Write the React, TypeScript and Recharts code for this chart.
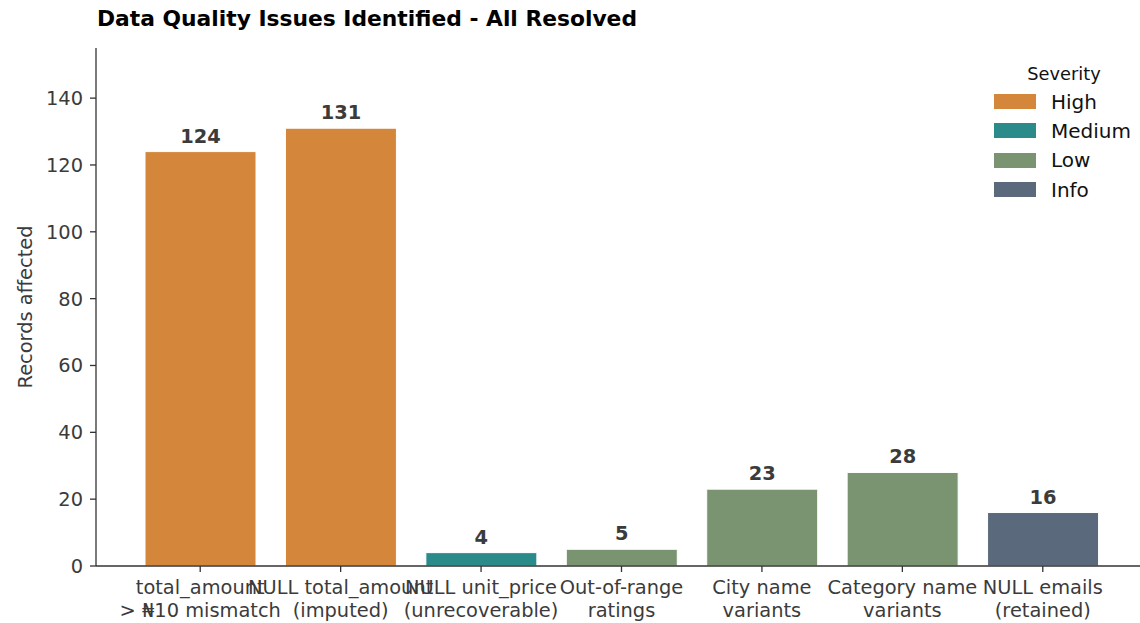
import React from "react";
import { BarChart, Bar, XAxis, YAxis, Cell, LabelList } from "recharts";

// issue labels (two lines each), record counts and severity bucket per issue
const issueLines: string[][] = [
  ["total_amount", "> \u20a610 mismatch"],
  ["NULL total_amount", "(imputed)"],
  ["NULL unit_price", "(unrecoverable)"],
  ["Out-of-range", "ratings"],
  ["City name", "variants"],
  ["Category name", "variants"],
  ["NULL emails", "(retained)"],
];
const recordCounts = [124, 131, 4, 5, 23, 28, 16];
const issueSeverity = ["High", "High", "Medium", "Low", "Low", "Low", "Info"];

const severityLevels = ["High", "Medium", "Low", "Info"];
const severityColors: Record<string, string> = {
  High: "#D4863A",
  Medium: "#2B8B8B",
  Low: "#7A9370",
  Info: "#5A6A7C",
};

const yTicks = [0, 20, 40, 60, 80, 100, 120, 140];

const data = issueLines.map((lines, i) => ({
  issue: lines.join("\n"),
  records: recordCounts[i],
  severity: issueSeverity[i],
}));

const font = "'DejaVu Sans', sans-serif";
const textGrey = "#3b3b3b";
const axisColor = "#333333";
const fs = 19.4;

function IssueTick({ x, y, payload }: any) {
  const lines = String(payload.value).split("\n");
  return (
    <text x={x} y={y} textAnchor="middle" fill={textGrey} fontFamily={font} fontSize={fs}>
      {lines.map((l, i) => (
        <tspan key={i} x={x} dy={i === 0 ? 20 : 23}>
          {l}
        </tspan>
      ))}
    </text>
  );
}

function SeverityLegend() {
  return (
    <div
      style={{
        position: "absolute",
        left: 994,
        top: 64,
        fontFamily: font,
        color: "#111",
        width: 150,
      }}
    >
      <div style={{ fontSize: 17.8, textAlign: "center", width: 140, lineHeight: "20px" }}>Severity</div>
      <div style={{ marginTop: 3 }}>
        {severityLevels.map((s) => (
          <div key={s} style={{ display: "flex", alignItems: "center", height: 29.3 }}>
            <div style={{ width: 42, height: 15, background: severityColors[s], marginRight: 15 }} />
            <span style={{ fontSize: 20 }}>{s}</span>
          </div>
        ))}
      </div>
    </div>
  );
}

export default function App() {
  return (
    <div
      style={{
        position: "absolute",
        left: 0,
        top: 0,
        width: 1140,
        height: 623,
        overflow: "hidden",
        background: "#fff",
      }}
    >
      <div
        style={{
          position: "absolute",
          left: 97,
          top: 8,
          fontFamily: font,
          fontWeight: "bold",
          fontSize: 21.8,
          lineHeight: "21px",
          color: "#000",
          whiteSpace: "nowrap",
        }}
      >
        Data Quality Issues Identified - All Resolved
      </div>
      <BarChart
        width={1150}
        height={623}
        data={data}
        margin={{ top: 48, right: 7, bottom: 0, left: 20 }}
      >
        <XAxis
          dataKey="issue"
          interval={0}
          height={57}
          padding={{ left: 34, right: 30 }}
          axisLine={{ stroke: axisColor, strokeWidth: 1.3 }}
          tickLine={{ stroke: axisColor, strokeWidth: 1.3 }}
          tickSize={6}
          tick={<IssueTick />}
        />
        <YAxis
          width={76}
          domain={[0, 155]}
          ticks={yTicks}
          interval={0}
          axisLine={{ stroke: axisColor, strokeWidth: 1.3 }}
          tickLine={{ stroke: axisColor, strokeWidth: 1.3 }}
          tickSize={6}
          tickMargin={7}
          tick={{ fill: textGrey, fontFamily: font, fontSize: fs }}
          label={{
            value: "Records affected",
            angle: -90,
            position: "insideLeft",
            offset: 5,
            style: { textAnchor: "middle", fill: textGrey, fontFamily: font, fontSize: fs },
          }}
        />
        <Bar dataKey="records" barSize={111} stroke="#fff" strokeWidth={1} isAnimationActive={false}>
          {data.map((d, i) => (
            <Cell key={i} fill={severityColors[d.severity]} />
          ))}
          <LabelList
            dataKey="records"
            position="top"
            offset={9}
            fill={textGrey}
            fontFamily={font}
            fontSize={fs}
            fontWeight="bold"
          />
        </Bar>
      </BarChart>
      <SeverityLegend />
    </div>
  );
}
